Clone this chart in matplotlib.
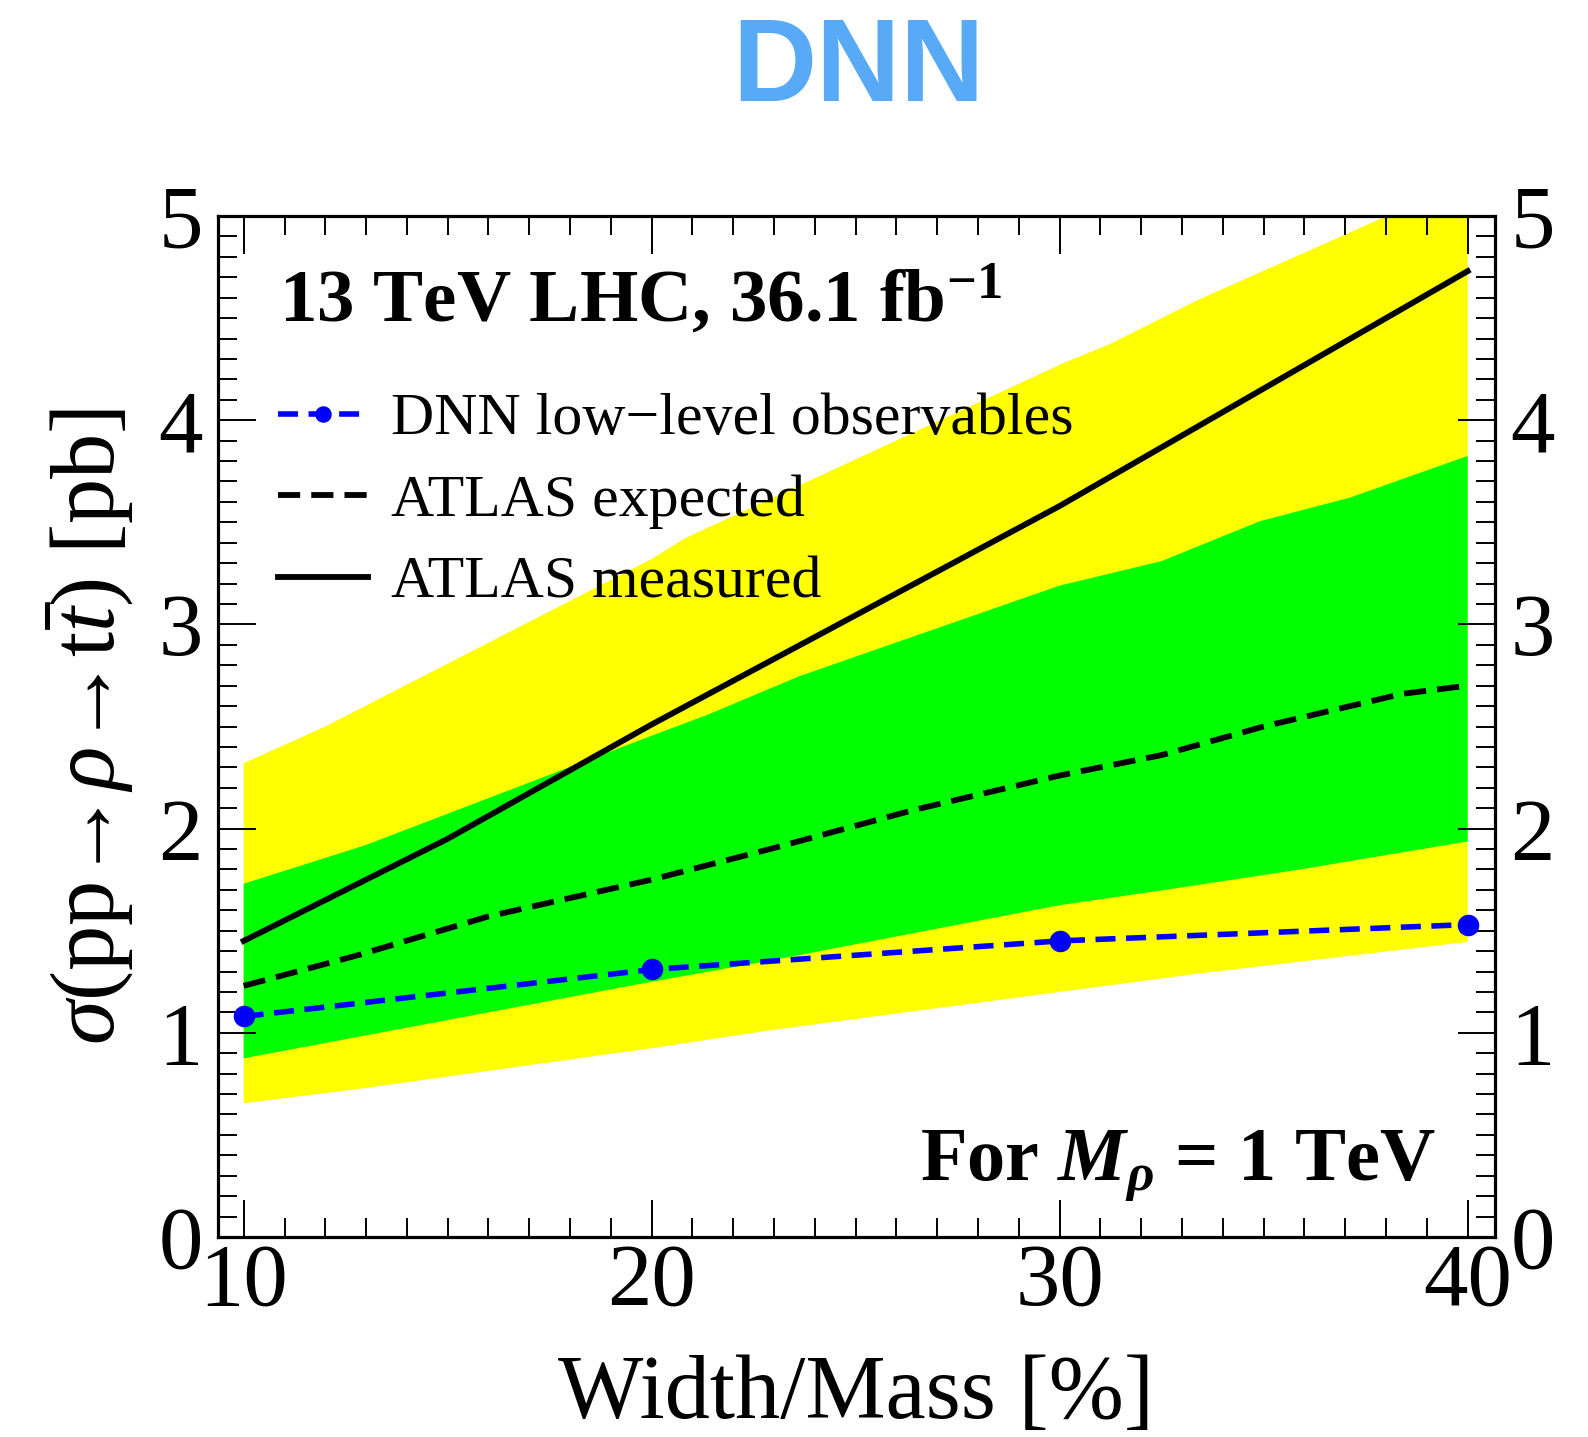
import matplotlib
matplotlib.use('Agg')
import matplotlib.pyplot as plt
from matplotlib.ticker import MultipleLocator, FixedLocator
import numpy as np

plt.rcParams['font.family'] = ['Liberation Serif', 'DejaVu Serif']
plt.rcParams['mathtext.fontset'] = 'custom'
plt.rcParams['mathtext.rm'] = 'Liberation Serif'
plt.rcParams['mathtext.it'] = 'Liberation Serif:italic'
plt.rcParams['mathtext.bf'] = 'Liberation Serif:bold'
plt.rcParams['mathtext.sf'] = 'Liberation Serif:bold:italic'
plt.rcParams['mathtext.fallback'] = 'stix'

# ---------------- data ----------------
width_dnn = [10, 20, 30, 40]
sigma_dnn = [1.08, 1.31, 1.45, 1.53]

width_meas = [10, 15, 20, 30, 40]
sigma_meas = [1.45, 1.95, 2.51, 3.58, 4.73]

width_exp = [10, 12.8, 16, 20, 23, 26.4, 30, 32.5, 35, 38.4, 40]
sigma_exp = [1.23, 1.38, 1.57, 1.75, 1.905, 2.09, 2.26, 2.36, 2.50, 2.66, 2.70]

# +-2 sigma band (yellow)
width_2up = [10, 12, 20, 20.8, 30.1, 31.2, 33.4, 36.9, 37.9, 40]
sigma_2up = [2.32, 2.50, 3.32, 3.42, 4.28, 4.37, 4.59, 4.90, 4.99, 5.16]
width_2dn = [10, 13, 20, 23, 30, 33.4, 40]
sigma_2dn = [0.655, 0.73, 0.925, 1.015, 1.20, 1.29, 1.445]

# +-1 sigma band (green)
width_1up = [10, 13, 20, 21.4, 23.6, 30, 32.5, 34.9, 37.1, 40]
sigma_1up = [1.73, 1.92, 2.455, 2.56, 2.745, 3.19, 3.31, 3.505, 3.62, 3.825]
width_1dn = [10, 20, 23, 30, 32.6, 35.9, 40]
sigma_1dn = [0.875, 1.25, 1.357, 1.625, 1.70, 1.80, 1.937]

x_ticks = [10, 20, 30, 40]
y_ticks = [0, 1, 2, 3, 4, 5]

label_dnn = 'DNN low\u2212level observables'
label_exp = 'ATLAS expected'
label_meas = 'ATLAS measured'

ARROW = '\u2192'
ylabel_text = r'$\sigma$(pp' + ARROW + r'$\rho$' + ARROW + r't$\bar{t}$) [pb]'

# ---------------- figure ----------------
W, H = 1588, 1437
fig = plt.figure(figsize=(W / 100, H / 100), dpi=100)
L, R, T, B = 218, 1495, 216, 1237
ax = fig.add_axes([L / W, 1 - B / H, (R - L) / W, (B - T) / H])

ax.fill(np.concatenate([width_2up, width_2dn[::-1]]),
        np.concatenate([sigma_2up, sigma_2dn[::-1]]),
        color='#ffff00', lw=0, zorder=1)
ax.fill(np.concatenate([width_1up, width_1dn[::-1]]),
        np.concatenate([sigma_1up, sigma_1dn[::-1]]),
        color='#00ff00', lw=0, zorder=1.1)

h_dnn, = ax.plot(width_dnn, sigma_dnn, color='#0000ff', lw=4.0,
                 ls=(0, (3.6, 1.9)), marker='o', ms=14.5, zorder=3,
                 label=label_dnn)
h_exp, = ax.plot(width_exp, sigma_exp, color='black', lw=4.2,
                 ls=(0, (3.8, 1.9)), zorder=2.5, label=label_exp)
h_meas, = ax.plot(width_meas, sigma_meas, color='black', lw=4.2,
                  ls='-', zorder=2.5, label=label_meas)

ax.set_xlim(9.37, 40.67)
ax.set_ylim(0, 5)
ax.xaxis.set_major_locator(FixedLocator(x_ticks))
ax.xaxis.set_minor_locator(MultipleLocator(1))
ax.yaxis.set_major_locator(FixedLocator(y_ticks))
ax.yaxis.set_minor_locator(MultipleLocator(0.1))
ax.tick_params(which='both', direction='in', top=True, right=True,
               labelright=True, width=1.4, labelsize=64, color='black')
ax.tick_params(which='major', length=27)
ax.tick_params(which='minor', length=13.5)
ax.tick_params(axis='x', pad=4)
ax.tick_params(axis='y', pad=11)
for s in ax.spines.values():
    s.set_linewidth(2.3)

ax.set_xlabel('Width/Mass [%]', fontsize=65)
ax.xaxis.set_label_coords(0.5, -0.1773)
ax.xaxis.label.set_va('baseline')
ax.set_ylabel(ylabel_text, fontsize=65)
ax.yaxis.set_label_coords(-0.064, 0.5)

ax.text(0.0474, 0.896, r'13 TeV LHC, 36.1 fb$^{\mathbf{-1}}$',
        transform=ax.transAxes, fontsize=54, fontweight='bold',
        ha='left', va='baseline', zorder=6)
ax.text(0.9538, 0.0558, r'For $\mathsf{M}_{\mathsf{\rho}}$ = 1 TeV',
        transform=ax.transAxes, fontsize=55, fontweight='bold',
        ha='right', va='baseline', zorder=6)

leg = ax.legend(handles=[h_dnn, h_exp, h_meas], loc='upper left',
                bbox_to_anchor=(0.047, 0.827), frameon=False,
                fontsize=43, handlelength=1.5, handletextpad=0.4,
                labelspacing=0.45, borderpad=0, borderaxespad=0,
                markerscale=0.75)
leg.set_zorder(6)

fig.text(858 / W, 1 - 101 / H, 'DNN', fontsize=84, fontweight='bold',
         family='Liberation Sans', color='#58AAF6', ha='center',
         va='baseline')

fig.savefig('out.png', dpi=100)
